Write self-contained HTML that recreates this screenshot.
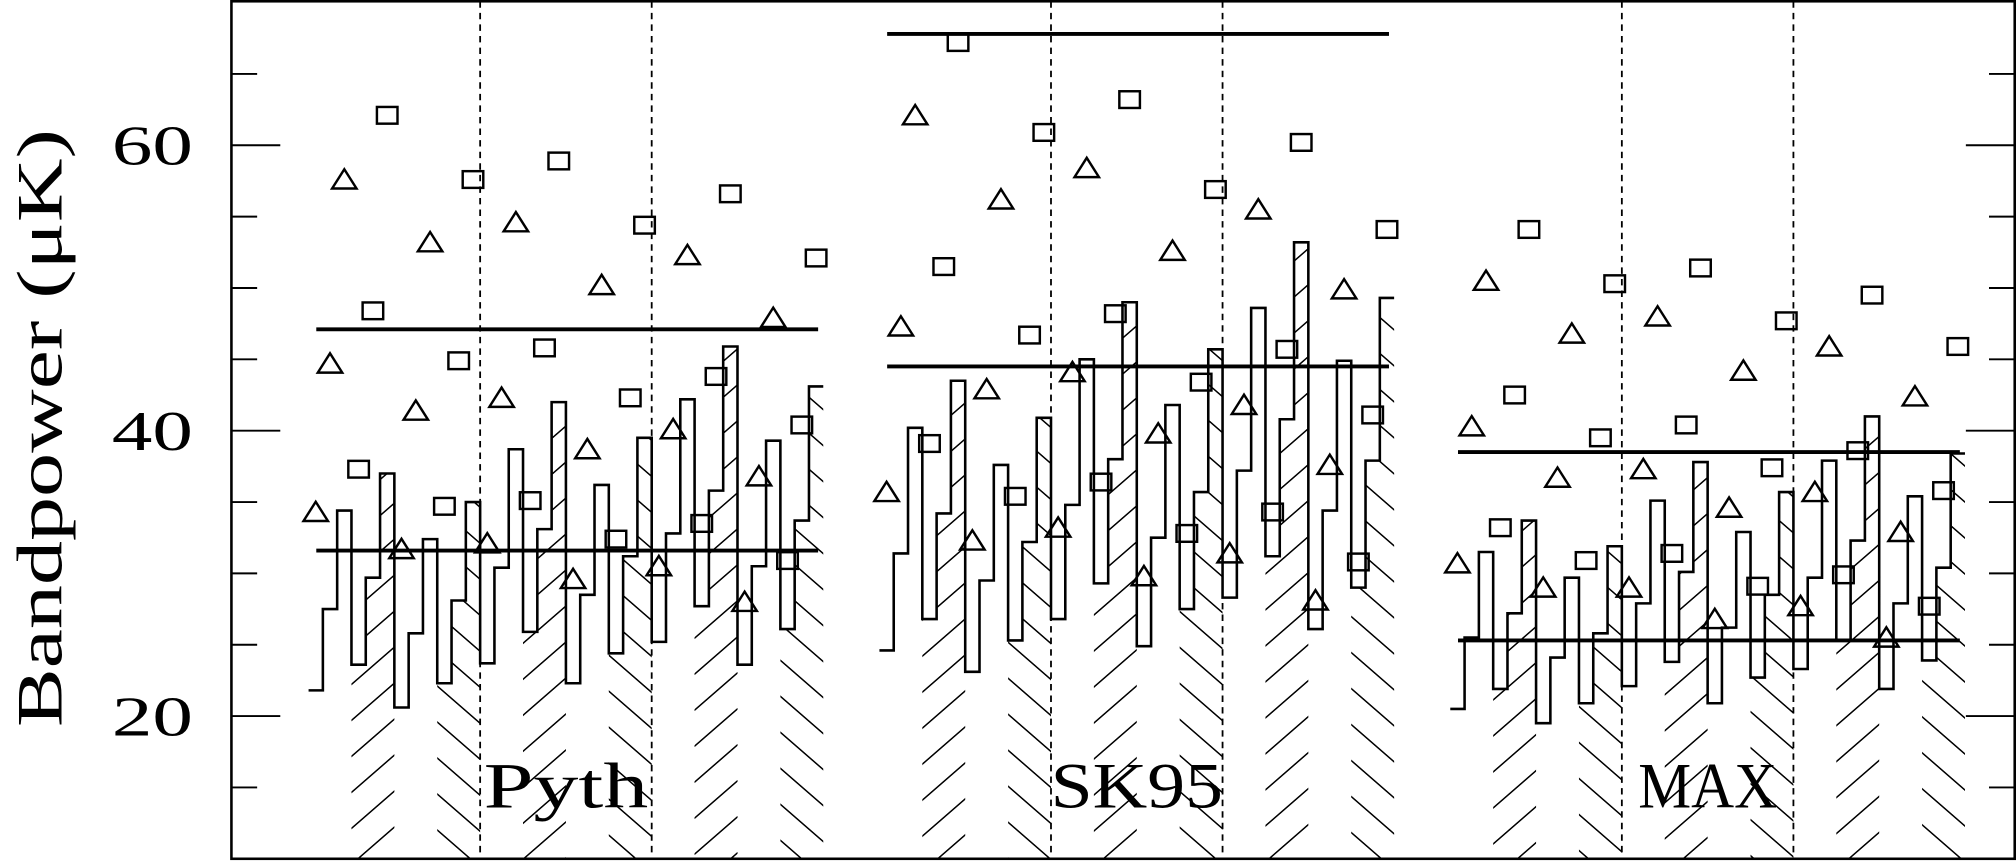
<!DOCTYPE html>
<html><head><meta charset="utf-8"><style>
html,body{margin:0;padding:0;background:#fff;}
svg{display:block;}
text{font-family:"Liberation Serif",serif;fill:#000;}
</style></head><body>
<svg id="chart" width="2016" height="862" viewBox="0 0 1568 670.5" preserveAspectRatio="none" xmlns="http://www.w3.org/2000/svg">
<defs>
<pattern id="hatchF" patternUnits="userSpaceOnUse" width="32" height="28" patternTransform="skewY(-41)">
<line x1="0" y1="14" x2="32" y2="14" stroke="#000" stroke-width="1.6"/>
</pattern>
<pattern id="hatchB" patternUnits="userSpaceOnUse" width="32" height="28" patternTransform="skewY(41)">
<line x1="0" y1="14" x2="32" y2="14" stroke="#000" stroke-width="1.6"/>
</pattern>
</defs>
<g id="plot"></g>
</svg>
<script>
const groupNames = ["Pyth", "SK95", "MAX"];
const yTicks = [20, 40, 60];
const pythSteps = [21.8,27.5,34.4,23.6,29.7,37.0,20.6,25.8,32.4,22.3,28.1,35.0,23.7,30.4,38.7,25.9,33.1,42.0,22.3,28.5,36.2,24.4,31.2,39.5,25.2,32.8,42.2,27.7,35.8,45.9,23.6,30.5,39.3,26.1,33.7,43.1];
const sk95Steps = [24.6,31.4,40.2,26.8,34.2,43.5,23.1,29.5,37.6,25.3,32.2,40.9,26.8,34.8,45.0,29.3,38.0,49.0,24.9,32.5,41.8,27.5,35.7,45.7,28.3,37.2,48.6,31.2,40.8,53.2,26.1,34.4,44.9,29.0,37.9,49.3];
const maxSteps = [20.5,25.5,31.5,21.9,27.2,33.7,19.5,24.1,29.7,20.9,25.8,31.9,22.1,27.9,35.1,23.8,30.1,37.8,20.9,26.2,32.9,22.7,28.5,35.7,23.3,29.7,37.9,25.3,32.3,41.0,21.9,27.9,35.4,23.9,30.4,38.4];
const pythMarkers = [34.3,44.7,57.6,37.3,48.4,62.1,31.7,41.4,53.2,34.7,44.9,57.6,32.1,42.3,54.6,35.1,45.8,58.9,29.6,38.7,50.2,32.4,42.3,54.4,30.5,40.1,52.3,33.5,43.8,56.6,28.0,36.8,47.9,30.9,40.4,52.1];
const sk95Markers = [35.7,47.3,62.1,39.1,51.5,67.2,32.3,42.9,56.2,35.4,46.7,60.9,33.2,44.1,58.4,36.4,48.2,63.2,29.8,39.8,52.6,32.8,43.4,56.9,31.4,41.8,55.5,34.3,45.7,60.2,28.1,37.6,49.9,30.8,41.1,54.1];
const maxMarkers = [30.7,40.3,50.5,33.2,42.5,54.1,29.0,36.7,46.8,30.9,39.5,50.3,29.0,37.3,48.0,31.4,40.4,51.4,26.8,34.6,44.2,29.1,37.4,47.7,27.7,35.7,45.9,29.9,38.6,49.5,25.5,32.9,42.4,27.7,35.8,45.9];
const pythLevels = [47.1, 31.6];
const sk95Levels = [67.8, 44.5];
const maxLevels = [38.5, 25.3];

const NS = "http://www.w3.org/2000/svg";
const plot = document.getElementById("plot");
const X0 = 180, X1 = 1567, YT = 1, YB = 668;
const BIN = 11.12, G0 = 240, GSTEP = 444;
function yS(v){ return 557 - (v - 20) * 11.1; }
function binX(g, i){ return G0 + g * GSTEP + i * BIN; }
function mk(tag, attrs){ const e = document.createElementNS(NS, tag); for (const k in attrs) e.setAttribute(k, attrs[k]); plot.appendChild(e); return e; }

const stepsAll = [pythSteps, sk95Steps, maxSteps];
const markersAll = [pythMarkers, sk95Markers, maxMarkers];
const levelsAll = [pythLevels, sk95Levels, maxLevels];

for (let g = 0; g < 3; g++) {
  const s = stepsAll[g];
  for (let p = 0; p < 3; p++) {
    [[3, "hatchF"], [9, "hatchB"]].forEach(([off, pat]) => {
      const b0 = p * 12 + off;
      let d = "M" + binX(g, b0) + "," + YB;
      for (let k = 0; k < 3; k++) {
        d += " L" + binX(g, b0 + k) + "," + yS(s[b0 + k]) + " L" + binX(g, b0 + k + 1) + "," + yS(s[b0 + k]);
      }
      d += " L" + binX(g, b0 + 3) + "," + YB + " Z";
      const h = mk("path", {d: d, fill: "url(#" + pat + ")", stroke: "none"});
      
      
    });
  }
}

for (let g = 0; g < 3; g++) {
  for (let p = 1; p < 3; p++) {
    const x = binX(g, p * 12);
    const l = mk("line", {x1: x, y1: YT, x2: x, y2: YB, stroke: "#000", "stroke-width": 1.4, "stroke-dasharray": "5,4"});
    
    
  }
}

for (let g = 0; g < 3; g++) {
  const s = stepsAll[g];
  let d = "M" + binX(g, 0) + "," + yS(s[0]) + " H" + binX(g, 1);
  for (let i = 1; i < s.length; i++) d += " V" + yS(s[i]) + " H" + binX(g, i + 1);
  const st = mk("path", {d: d, fill: "none", stroke: "#000", "stroke-width": 2});
  
  
}

for (let g = 0; g < 3; g++) {
  levelsAll[g].forEach(v => {
    const l = mk("line", {x1: binX(g, 0) + 6, y1: yS(v), x2: binX(g, 36) - 4, y2: yS(v), stroke: "#000", "stroke-width": 3});
    
    
  });
}

for (let g = 0; g < 3; g++) {
  const m = markersAll[g];
  for (let i = 0; i < m.length; i++) {
    const cx = binX(g, i) + BIN / 2, cy = yS(m[i]);
    const tri = Math.floor(i / 3) % 2 === 0;
    let e;
    if (tri) {
      e = mk("path", {d: "M" + (cx - 9.5) + "," + (cy + 7) + " L" + (cx + 9.5) + "," + (cy + 7) + " L" + cx + "," + (cy - 8) + " Z", fill: "none", stroke: "#000", "stroke-width": 1.9});
      
    } else {
      e = mk("rect", {x: cx - 8, y: cy - 6.5, width: 16, height: 13, fill: "none", stroke: "#000", "stroke-width": 1.9});
      
    }
    
  }
}

const labelWidths = [128, 134, 108];
for (let g = 0; g < 3; g++) {
  const t = mk("text", {x: binX(g, 18), y: 628, "text-anchor": "middle", "font-size": 50, textLength: labelWidths[g], lengthAdjust: "spacingAndGlyphs"});
  t.textContent = groupNames[g];
  
  
}

for (let v = 15; v <= 65; v += 5) {
  const y = yS(v), major = yTicks.indexOf(v) >= 0;
  const len = major ? 38 : 20;
  const a = mk("line", {x1: X0, y1: y, x2: X0 + len, y2: y, stroke: "#000", "stroke-width": 1.5});
  
  
  const b = mk("line", {x1: X1 - len, y1: y, x2: X1, y2: y, stroke: "#000", "stroke-width": 1.5});
  
  
}
yTicks.forEach(v => {
  const t = mk("text", {x: 150, y: yS(v) + 15, "text-anchor": "end", "font-size": 44, textLength: 63, lengthAdjust: "spacingAndGlyphs"});
  t.textContent = String(v);
  
  
});

const fr = mk("rect", {x: X0, y: YT, width: X1 - X0, height: YB - YT, fill: "none", stroke: "#000", "stroke-width": 2});



const yt = mk("text", {x: 0, y: 0, "text-anchor": "middle", "font-size": 50, textLength: 465, lengthAdjust: "spacingAndGlyphs", transform: "translate(48,333) rotate(-90)"});
yt.textContent = "Bandpower (\u03BCK)";


</script>
</body></html>
